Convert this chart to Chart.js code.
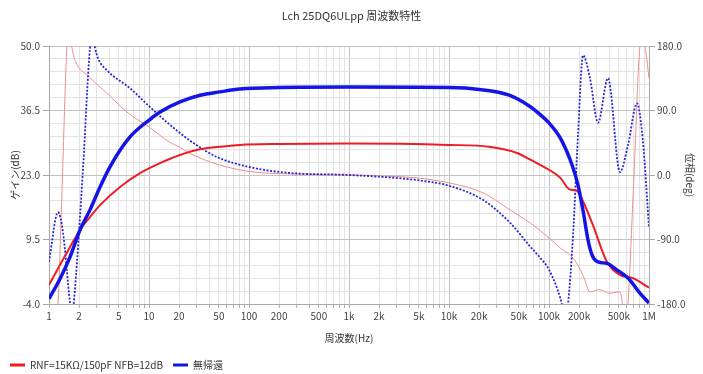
<!DOCTYPE html>
<html>
<head>
<meta charset="utf-8">
<script src="https://cdn.jsdelivr.net/npm/chart.js@4/dist/chart.umd.min.js"></script>
<style>
html, body { margin: 0; padding: 0; background: #fff; }
</style>
</head>
<body>
<canvas id="freqChart" width="703" height="374"></canvas>
<script>
const NARROW = "'Liberation Sans Narrow', 'Noto Sans CJK JP', sans-serif"
const JP = "'Noto Sans CJK JP', sans-serif"

// gain (dB), RNF=15K/150pF NFB=12dB
const rnfGainFreq = [1, 1.29, 1.62, 2.04, 2.57, 3.24, 5.13, 8.13, 12.9, 20.4, 32.4, 51.3, 81.3, 200, 1000, 10000, 25000, 48000, 65000, 100000, 130000, 160000, 190000, 220000, 275000, 380000, 510000, 690000, 1000000]
const rnfGain = [0.0, 4.2, 7.9, 11.5, 14.2, 16.7, 20.5, 23.4, 25.5, 27.2, 28.4, 28.9, 29.3, 29.5, 29.6, 29.3, 28.9, 27.6, 26.2, 24.1, 22.4, 20.0, 19.7, 17.4, 12.5, 4.8, 2.1, 1.4, -0.6]

// gain (dB), no feedback
const openGainFreq = [1, 1.29, 1.62, 2.04, 2.57, 3.24, 4.07, 5.13, 6.46, 8.13, 10.2, 12.9, 20.4, 32.4, 51.3, 81.3, 200, 1000, 10000, 20000, 40000, 65000, 80000, 100000, 130000, 170000, 195000, 220000, 245000, 270000, 310000, 380000, 480000, 620000, 810000, 1000000]
const openGain = [-2.9, 1.3, 5.8, 11.5, 15.7, 20.5, 24.7, 28.2, 31.0, 33.0, 34.6, 36.2, 38.3, 39.7, 40.4, 41.0, 41.3, 41.4, 41.3, 40.9, 39.7, 37.3, 35.8, 33.9, 30.7, 25.1, 20.9, 15.3, 9.5, 6.2, 4.8, 4.5, 3.1, 1.4, -1.7, -3.8]

// phase (deg), RNF
const rnfPhaseFreq = [1, 1.15, 1.23, 1.35, 1.51, 1.585, 1.66, 1.74, 1.82, 2.57, 3.8, 6, 10, 16, 20, 25.7, 48, 100, 260, 1000, 4700, 10000, 22000, 41000, 65000, 100000, 130000, 174000, 219000, 257000, 320000, 407000, 513000, 550000, 590000, 617000, 708000, 813000, 871000, 933000, 1000000]
const rnfPhase = [-260, -205, -180, -20, 180, 205, 185, 170, 160, 136, 114, 88, 67, 46, 39, 30, 15, 5, 1.4, 0, -4, -11, -25, -49, -67, -88, -102, -116, -140, -163, -160, -165, -163, -185, -210, -180, 0, 180, 190, 170, 135]

// phase (deg), no feedback
const openPhaseFreq = [1, 1.23, 1.38, 1.62, 1.70, 1.82, 2.19, 2.57, 2.75, 2.88, 3.09, 3.8, 6.46, 10.2, 16.2, 25.7, 48, 102, 257, 1000, 4700, 10000, 22000, 41000, 65000, 81000, 100000, 130000, 140000, 148000, 155000, 174000, 195000, 219000, 257000, 309000, 389000, 513000, 617000, 759000, 871000, 1000000]
const openPhase = [-121, -52, -80, -177, -195, -158, 10, 177, 195, 178, 163, 146, 121, 95, 70, 48, 25, 11, 2.8, 0, -7, -15, -35, -67, -100, -115, -132, -172, -190, -195, -180, -84, 56, 167, 135, 73, 135, 4, 42, 100, 46, -74]

const seriesLabels = ["RNF=15KΩ/150pF NFB=12dB", "無帰還"]

// tick labels
const xLabels = {1: "1", 2: "2", 5: "5", 10: "10", 20: "20", 50: "50", 100: "100", 200: "200", 500: "500",
    1000: "1k", 2000: "2k", 5000: "5k", 10000: "10k", 20000: "20k", 50000: "50k",
    100000: "100k", 200000: "200k", 500000: "500k", 1000000: "1M"}
const gainMin = -4, gainMax = 50, gainStep = 2.7
const phaseTicks = [-180, -90, 0, 90, 180]

function toPoints(xs, ys){
    return xs.map((x, i) => ({x: x, y: ys[i]}))
}

// 1..9 x 10^n for the log grid
const xTickValues = []
for (let d = 0; d < 6; d++){
    for (let m = 1; m < 10; m++) xTickValues.push(m * Math.pow(10, d))
}
xTickValues.push(1000000)

const gainTickValues = []
for (let i = 0; i <= 20; i++) gainTickValues.push(+(gainMin + i * gainStep).toFixed(2))

function isDecade(v){
    const l = Math.log10(v)
    return Math.abs(l - Math.round(l)) < 1e-9
}
function isMajorGain(v){
    const k = (v - gainMin) / (gainStep * 5)
    return Math.abs(k - Math.round(k)) < 1e-6
}

new Chart(document.getElementById("freqChart"), {
    type: "line",
    data: {
        datasets: [
            {
                label: seriesLabels[1],
                data: toPoints(openGainFreq, openGain),
                borderColor: "#1414e6",
                backgroundColor: "#1414e6",
                borderWidth: 3.5,
                yAxisID: "y"
            },
            {
                label: seriesLabels[0],
                data: toPoints(rnfGainFreq, rnfGain),
                borderColor: "#ee1c24",
                backgroundColor: "#ee1c24",
                borderWidth: 2,
                yAxisID: "y"
            },
            {
                label: "phase open",
                data: toPoints(openPhaseFreq, openPhase),
                borderColor: "#2828d0",
                backgroundColor: "#2828d0",
                borderWidth: 1.8,
                borderDash: [2, 1.6],
                yAxisID: "y2"
            },
            {
                label: "phase rnf",
                data: toPoints(rnfPhaseFreq, rnfPhase),
                borderColor: "#ec8f8f",
                backgroundColor: "#ec8f8f",
                borderWidth: 1,
                yAxisID: "y2"
            }
        ]
    },
    options: {
        responsive: false,
        animation: false,
        layout: { padding: { bottom: -6 } },
        elements: {
            point: { radius: 0 },
            line: { cubicInterpolationMode: "monotone" }
        },
        scales: {
            x: {
                type: "logarithmic",
                min: 1,
                max: 1000000,
                afterBuildTicks: (scale) => { scale.ticks = xTickValues.map(v => ({value: v})) },
                afterFit: (scale) => { scale.height = 46 },
                ticks: {
                    autoSkip: false,
                    maxRotation: 0,
                    padding: 2,
                    color: "#444",
                    font: { family: NARROW, size: 10 },
                    callback: (v) => xLabels[v] || ""
                },
                grid: {
                    color: (ctx) => isDecade(ctx.tick.value) ? "#c2c2c2" : "#e3e3e3",
                    tickColor: "#b0b0b0",
                    tickLength: 4
                },
                border: { color: "#a8a8a8" },
                title: {
                    display: true,
                    text: "周波数(Hz)",
                    color: "#333",
                    font: { family: JP, size: 10 },
                    padding: { top: 0, bottom: 6 }
                }
            },
            y: {
                position: "left",
                min: gainMin,
                max: gainMax,
                afterBuildTicks: (scale) => { scale.ticks = gainTickValues.map(v => ({value: v})) },
                afterFit: (scale) => { scale.width = 49 },
                ticks: {
                    autoSkip: false,
                    padding: 3,
                    color: "#444",
                    font: { family: NARROW, size: 10 },
                    callback: (v) => isMajorGain(v) ? v.toFixed(1) : ""
                },
                grid: {
                    color: (ctx) => isMajorGain(ctx.tick.value) ? "#c2c2c2" : "#e3e3e3",
                    tickColor: (ctx) => isMajorGain(ctx.tick.value) ? "#a8a8a8" : "rgba(0,0,0,0)",
                    tickLength: 6
                },
                border: { color: "#a8a8a8" },
                title: {
                    display: true,
                    text: "ゲイン(dB)",
                    color: "#333",
                    font: { family: JP, size: 10 },
                    padding: { top: 9, bottom: 0 }
                }
            },
            y2: {
                position: "right",
                min: -180,
                max: 180,
                afterBuildTicks: (scale) => { scale.ticks = phaseTicks.map(v => ({value: v})) },
                afterFit: (scale) => { scale.width = 54 },
                ticks: {
                    autoSkip: false,
                    padding: 2,
                    color: "#444",
                    font: { family: NARROW, size: 10 },
                    callback: (v) => v.toFixed(1)
                },
                grid: {
                    drawOnChartArea: false,
                    tickColor: "#a8a8a8",
                    tickLength: 6
                },
                border: { color: "#a8a8a8" },
                title: {
                    display: true,
                    text: "位相(deg)",
                    color: "#333",
                    font: { family: JP, size: 10 },
                    padding: { top: 7, bottom: 0 }
                }
            }
        },
        plugins: {
            title: {
                display: true,
                text: "Lch 25DQ6ULpp 周波数特性",
                color: "#333",
                font: { family: NARROW, size: 11, weight: "normal" },
                padding: { top: 9, bottom: 23.8 }
            },
            legend: {
                position: "bottom",
                align: "start",
                reverse: true,
                labels: {
                    boxWidth: 15,
                    boxHeight: 3,
                    padding: 10,
                    color: "#333",
                    font: { family: NARROW, size: 10 },
                    generateLabels: (chart) => Chart.defaults.plugins.legend.labels.generateLabels(chart)
                        .filter(item => item.datasetIndex < 2)
                        .map(item => Object.assign(item, { lineWidth: 0 }))
                }
            },
            tooltip: { enabled: false }
        }
    }
})
</script>
</body>
</html>
